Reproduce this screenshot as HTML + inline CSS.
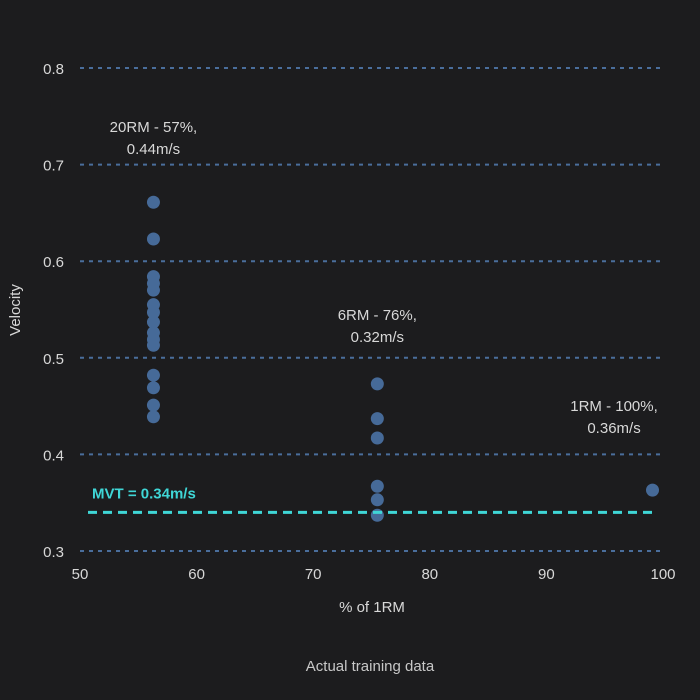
<!DOCTYPE html>
<html><head><meta charset="utf-8"><style>
body{margin:0;background:#1c1c1e;}
svg{display:block;font-family:"Liberation Sans",sans-serif;}
</style></head><body>
<svg id="chart" width="700" height="700" viewBox="0 0 700 700">
<rect width="700" height="700" fill="#1c1c1e"/>
<g id="grid"></g><g id="ticks"></g><g id="pts"></g><g id="ann"></g>
<text x="20" y="310" fill="#d8d8d8" font-size="15" text-anchor="middle" transform="rotate(-90 20 310)">Velocity</text>
<text x="372" y="612" fill="#d8d8d8" font-size="15" text-anchor="middle">% of 1RM</text>
<text x="370" y="671" fill="#c8c8c8" font-size="15" text-anchor="middle">Actual training data</text>
</svg>
<script>
const yTicks=[0.3,0.4,0.5,0.6,0.7,0.8];
const xTicks=[50,60,70,80,90,100];
const groupX=[56.3,75.5,99.1];
const group1=[0.661,0.623,0.584,0.577,0.570,0.555,0.547,0.537,0.526,0.519,0.513,0.482,0.469,0.451,0.439];
const group2=[0.473,0.437,0.417,0.367,0.353,0.337];
const group3=[0.363];
const mvt=0.34;
const labels=[["20RM - 57%,","0.44m/s"],["6RM - 76%,","0.32m/s"],["1RM - 100%,","0.36m/s"]];
const labelPos=[[56.3,0.734],[75.5,0.539],[95.8,0.445]];
const X=v=>80+(v-50)*11.66;
const Y=v=>68+(0.8-v)*966;
const NS="http://www.w3.org/2000/svg";
function mk(t,a,p){const e=document.createElementNS(NS,t);for(const k in a)e.setAttribute(k,a[k]);p.appendChild(e);return e;}
const grid=document.getElementById('grid'),ticks=document.getElementById('ticks'),pts=document.getElementById('pts'),ann=document.getElementById('ann');
yTicks.forEach(v=>{
 const l=mk('line',{x1:80,x2:665,y1:Y(v),y2:Y(v),stroke:'#4a6e9c','stroke-width':2,'stroke-dasharray':'4 5'},grid);
 
 
 const t=mk('text',{x:64,y:Y(v)+6,fill:'#d8d8d8','font-size':15,'text-anchor':'end'},ticks);t.textContent=v.toFixed(1);
 
 
});
xTicks.forEach(v=>{
 const t=mk('text',{x:X(v),y:579,fill:'#d8d8d8','font-size':15,'text-anchor':'middle'},ticks);t.textContent=v;
 
 
});
const m=mk('line',{x1:88,x2:655,y1:Y(mvt),y2:Y(mvt),stroke:'#3fd6d6','stroke-width':3,'stroke-dasharray':'9 6'},ann);


const mt=mk('text',{x:92,y:Y(mvt)-14,fill:'#3fd6d6','font-size':15,'font-weight':'bold'},ann);mt.textContent='MVT = 0.34m/s';


[group1,group2,group3].forEach((g,i)=>g.forEach(v=>{
 const c=mk('circle',{cx:X(groupX[i]),cy:Y(v),r:6.5,fill:'#466a98'},pts);
 
 
}));
labels.forEach((lb,i)=>{
 const t=mk('text',{x:X(labelPos[i][0]),y:Y(labelPos[i][1]),fill:'#d8d8d8','font-size':15,'text-anchor':'middle'},ann);
 
 
 lb.forEach((s,j)=>{const ts=mk('tspan',{x:X(labelPos[i][0]),dy:j?22:0},t);ts.textContent=s;});
});
</script>
</body></html>
